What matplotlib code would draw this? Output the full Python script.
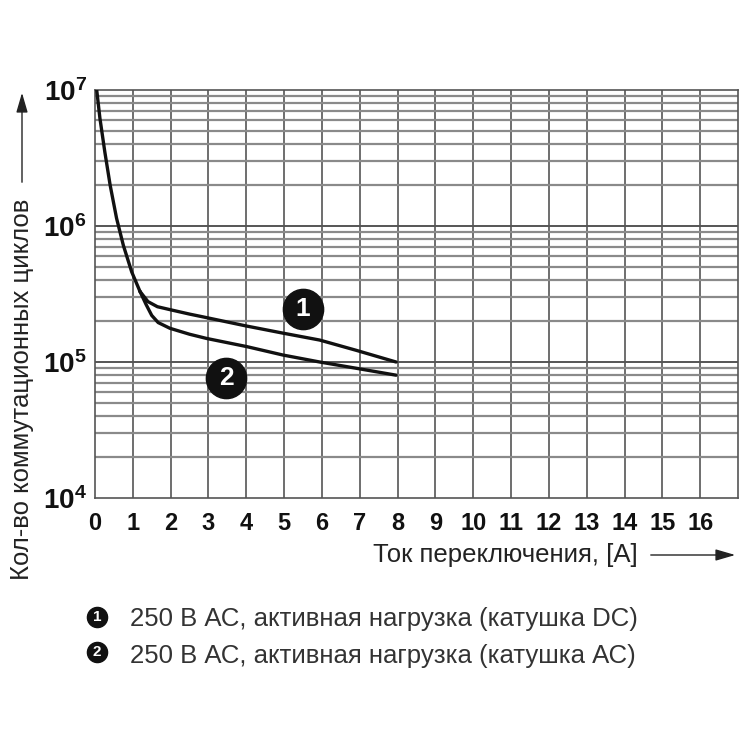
import numpy as np
import matplotlib.pyplot as plt

plt.rcParams['font.family'] = ['Liberation Sans', 'DejaVu Sans']
plt.rcParams['mathtext.fontset'] = 'custom'
plt.rcParams['mathtext.rm'] = 'Liberation Sans:bold'
plt.rcParams['mathtext.it'] = 'Liberation Sans:bold'
plt.rcParams['mathtext.bf'] = 'Liberation Sans:bold'

#--- data ---
# common steep part of both curves
x_common = [0.045, 0.13, 0.26, 0.40, 0.57, 0.75, 0.97, 1.19]
y_common = [1.0e7, 6.2e6, 3.5e6, 2.0e6, 1.14e6, 7.2e5, 4.6e5, 3.3e5]
# curve 1 : 250 V AC, DC coil
x_c1 = [1.19, 1.40, 1.65, 2.0, 2.5, 2.95, 4.0, 4.97, 5.94, 6.9, 7.96]
y_c1 = [3.3e5, 2.78e5, 2.55e5, 2.42e5, 2.25e5, 2.12e5, 1.84e5, 1.63e5, 1.45e5, 1.22e5, 1.0e5]
# curve 2 : 250 V AC, AC coil
x_c2 = [1.19, 1.35, 1.50, 1.67, 1.98, 2.5, 2.95, 4.0, 4.97, 5.94, 6.9, 7.96]
y_c2 = [3.3e5, 2.65e5, 2.2e5, 1.95e5, 1.77e5, 1.6e5, 1.49e5, 1.30e5, 1.125e5, 1.0e5, 9.0e4, 8.0e4]

labels_pos = {'1': (5.49, 2.45e5), '2': (3.47, 7.6e4)}
xticks = list(range(0, 17))
yticks = [1e4, 1e5, 1e6, 1e7]
yticklabels = ['$10^4$', '$10^5$', '$10^6$', '$10^7$']
legend_txt = ['250 В АС, активная нагрузка (катушка DC)',
              '250 В АС, активная нагрузка (катушка АС)']

fig = plt.figure(figsize=(7.5, 7.5), dpi=100)
ax = fig.add_axes([95/750, 1-498/750, (738-95)/750, (498-90)/750])

ax.set_yscale('log')
ax.set_xlim(0, 17)
ax.set_ylim(1e4, 1e7)

# grid
for xv in range(1, 17):
    ax.axvline(xv, color='#555555', lw=1.2, zorder=1)
for dec in [1e4, 1e5, 1e6]:
    for m in range(2, 10):
        ax.axhline(dec*m, color='#8a8a8a', lw=1.6, zorder=1)
    if dec > 1e4:
        ax.axhline(dec, color='#555555', lw=1.4, zorder=1)

# curves
ax.plot(x_common, y_common, color='#111111', lw=2.4, zorder=3, solid_capstyle='round')
ax.plot(x_c1, y_c1, color='#111111', lw=2.4, zorder=3, solid_capstyle='round')
ax.plot(x_c2, y_c2, color='#111111', lw=2.4, zorder=3, solid_capstyle='round')

for k, (xv, yv) in labels_pos.items():
    ax.plot(xv, yv, 'o', ms=29, color='#111111', zorder=4)
    ax.text(xv, yv, k, color='white', ha='center', va='center',
            fontsize=19, fontweight='bold', zorder=5)

ax.set_xticks(xticks)
ax.set_xticklabels([str(v) for v in xticks], fontsize=17, fontweight='bold',
                   color='#111111')
ax.set_yticks(yticks)
ax.set_yticklabels(yticklabels, fontsize=20, color='#111111')
ax.minorticks_off()
ax.tick_params(axis='x', length=0, pad=10)
ax.tick_params(axis='y', length=0, pad=6)
for s in ax.spines.values():
    s.set_color('#555555')
    s.set_linewidth(1.2)

# axis titles with arrows
fig.text(373/750, 1-555/750, 'Ток переключения, [A]', fontsize=18.5,
         ha='left', va='center', color='#222222')
fig.text(22/750, 1-389/750, 'Кол-во коммутационных циклов', fontsize=18.5,
         rotation=90, ha='center', va='center', color='#222222')
ax.annotate('', xy=(738/750, 1-555/750), xytext=(648/750, 1-555/750),
            xycoords='figure fraction',
            arrowprops=dict(arrowstyle='-|>,head_length=1.2,head_width=0.35',
                            color='#222222', lw=1.0))
ax.annotate('', xy=(22/750, 1-90/750), xytext=(22/750, 1-185/750),
            xycoords='figure fraction',
            arrowprops=dict(arrowstyle='-|>,head_length=1.2,head_width=0.35',
                            color='#222222', lw=1.0))

# legend
for i, t in enumerate(legend_txt):
    yc = 1 - (617 + 35*i)/750
    yt = 1 - (619 + 37*i)/750
    ax.plot(97/750, yc, 'o', ms=14.5, color='#111111', transform=fig.transFigure,
            clip_on=False)
    fig.text(97/750, yc, str(i+1), fontsize=11, fontweight='bold', color='white',
             ha='center', va='center')
    fig.text(130/750, yt, t, fontsize=18.5, color='#333333', ha='left', va='center')

plt.savefig('out.png', dpi=100)
